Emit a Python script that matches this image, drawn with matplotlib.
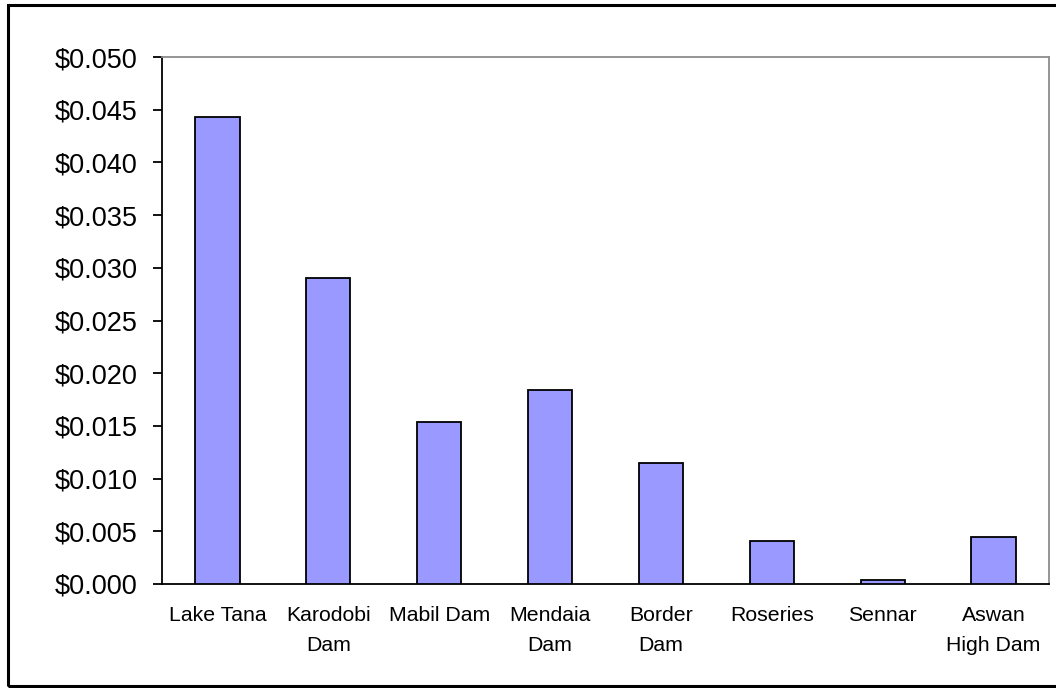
import matplotlib.pyplot as plt
from matplotlib.patches import Rectangle
from matplotlib.ticker import FuncFormatter, MultipleLocator

plt.rcParams['font.family'] = ['Liberation Sans', 'DejaVu Sans']

dams = ['Lake Tana', 'Karodobi\nDam', 'Mabil Dam', 'Mendaia\nDam',
        'Border\nDam', 'Roseries', 'Sennar', 'Aswan\nHigh Dam']
cost = [0.0443, 0.0290, 0.0154, 0.0184, 0.0115, 0.0041, 0.0004, 0.0045]

fig = plt.figure(figsize=(10.56, 6.88), dpi=100)
ax = fig.add_axes([162 / 1056, 1 - 584 / 688, (1049 - 162) / 1056, (584 - 57) / 688])

x = range(len(dams))
ax.bar(x, cost, width=0.4, color='#9999FF', edgecolor='black', linewidth=1.3, zorder=3)

ax.set_xlim(-0.5, len(dams) - 0.5)
ax.set_ylim(0, 0.05)
ax.yaxis.set_major_locator(MultipleLocator(0.005))
ax.yaxis.set_major_formatter(FuncFormatter(lambda v, p: '${:.3f}'.format(v)))

ax.set_xticks(list(x))
ax.set_xticklabels(dams, fontsize=15.3, linespacing=1.75)
ax.tick_params(axis='x', length=0, pad=16)
ax.tick_params(axis='y', labelsize=19.5, length=6.5, width=1.3, pad=11)

for side in ['left', 'bottom']:
    ax.spines[side].set_color('black')
    ax.spines[side].set_linewidth(1.3)
for side in ['top', 'right']:
    ax.spines[side].set_color('#8c8c8c')
    ax.spines[side].set_linewidth(1.3)

# chart-area frame, running off the right edge
fig.patches.append(Rectangle((8 / 1056, 2 / 688), 1.1, 681 / 688, transform=fig.transFigure,
                             fill=False, edgecolor='black', linewidth=2.2))

fig.savefig('out.png', dpi=100)
